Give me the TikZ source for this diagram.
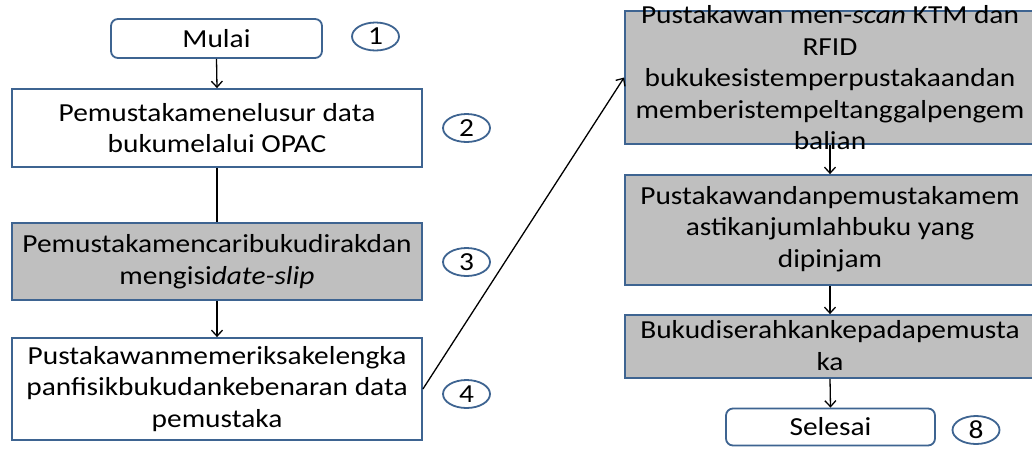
\documentclass[tikz,border=0pt]{standalone}
\usepackage{fontspec}
\setmainfont{Carlito}
\usetikzlibrary{arrows.meta,shapes.geometric}
\definecolor{bord}{RGB}{62,100,145}
\definecolor{boxgray}{RGB}{191,191,191}
\begin{document}
\begin{tikzpicture}[x=1pt,y=-1pt,
  txt/.style={font=\fontsize{26}{31.5}\selectfont, align=center, inner sep=0pt, text=black, xscale=1.13, transform shape},
  procbox/.style={draw=bord, line width=1.8pt, rectangle, inner sep=0pt, minimum width=410pt},
  graybox/.style={procbox, fill=boxgray},
  termbox/.style={draw=bord, line width=1.8pt, rounded corners=7pt, inner sep=0pt, fill=white},
  numoval/.style={draw=bord, line width=1.8pt, ellipse, minimum width=47pt, minimum height=28pt, inner sep=0pt},
  conn/.style={black, line width=1.3pt},
  arr/.style={conn, -{Straight Barb[length=6pt,width=11pt,line width=1.3pt]}}
]
\useasboundingbox[fill=white] (0,0) rectangle (1032,448);
\begin{scope}
\clip (0,0) rectangle (1032,448);
% left column
\node[termbox, minimum width=211pt, minimum height=39pt] (mulai) at (216.5,38.5) {};
\node[txt] (mulait) at (mulai.center) {Mulai};
\node[procbox, minimum height=78pt] (b2) at (217,128) {};
\node[txt] (b2t) at (b2.center) {Pemustakamenelusur data\\bukumelalui OPAC};
\node[graybox, minimum height=77pt] (b3) at (217,261.5) {};
\node[txt] (b3t) at (b3.center) {Pemustakamencaribukudirakdan\\mengisi\textit{date-slip}};
\node[procbox, minimum height=102pt] (b4) at (217,389) {};
\node[txt] (b4t) at (b4.center) {Pustakawanmemeriksakelengka\\panfisikbukudankebenaran data\\pemustaka};
% right column
\node[graybox, minimum height=133pt] (b5) at (830,77.5) {};
\node[graybox, minimum height=110pt] (b6) at (830,230) {};
\node[graybox, minimum height=63pt] (b7) at (830,346.5) {};
\node[termbox, minimum width=209pt, minimum height=37pt] (sel) at (830.5,427) {};
\node[txt] (selt) at (sel.center) {Selesai};
% number ovals
\node[numoval] (n1) at (375.5,36.5) {};
\node[numoval] (n2) at (466.5,128) {};
\node[numoval] (n3) at (466.5,262) {};
\node[numoval] (n4) at (466.5,394) {};
\node[numoval] (n8) at (976,430) {};
\node[txt] (n1t) at (n1.center) {1};
\node[txt] (n2t) at (n2.center) {2};
\node[txt] (n3t) at (n3.center) {3};
\node[txt] (n4t) at (n4.center) {4};
\node[txt] (n8t) at (n8.center) {8};
% connectors
\draw[arr] (mulai.south) -- (b2.north);
\draw[conn] (b2.south) -- (b3.north);
\draw[arr] (b3.south) -- (b4.north);
\draw[arr] (b4.east) -- (b5.west);
\draw[arr] (b5.south) -- (b6.north);
\draw[arr] (b6.south) -- (b7.north);
\draw[arr] (b7.south) -- (sel.north);
% overflowing texts on top
\node[txt] (b5t) at ([yshift=-0.5pt]b5.center) {Pustakawan men-\textit{scan} KTM dan\\RFID\\bukukesistemperpustakaandan\\memberistempeltanggalpengem\\balian};
\node[txt] (b6t) at ([yshift=1pt]b6.center) {Pustakawandanpemustakamem\\astikanjumlahbuku yang\\dipinjam};
\node[txt] (b7t) at ([yshift=1pt]b7.center) {Bukudiserahkankepadapemusta\\ka};
\end{scope}
\end{tikzpicture}
\end{document}
